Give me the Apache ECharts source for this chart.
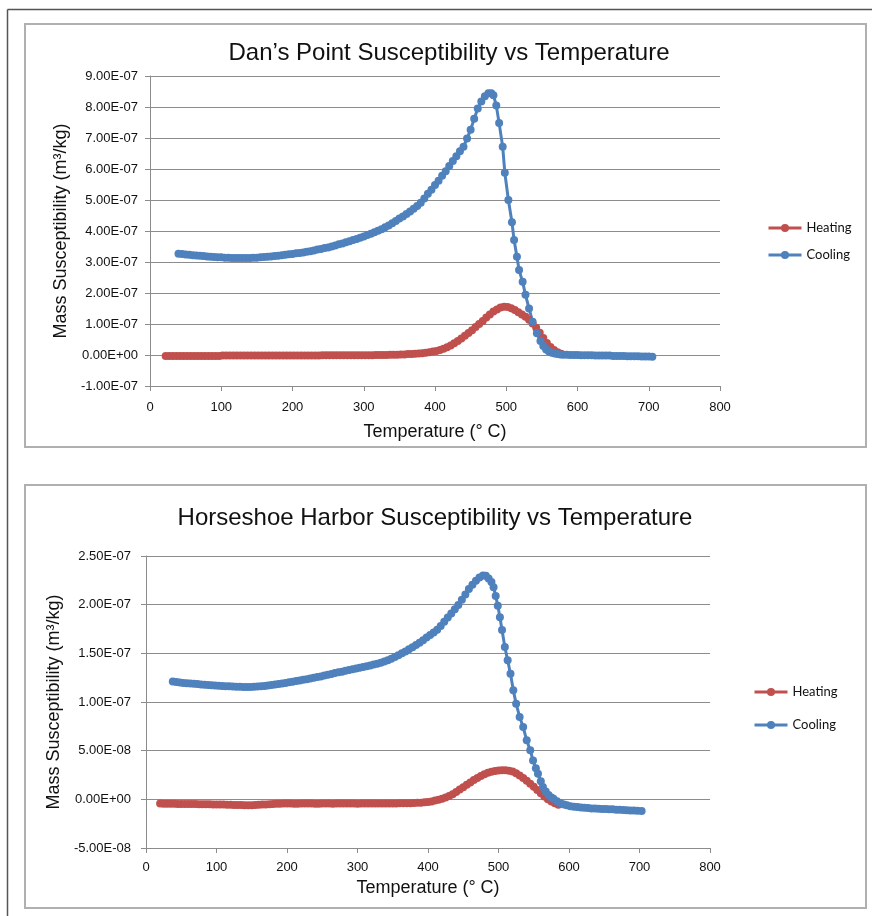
<!DOCTYPE html>
<html>
<head>
<meta charset="utf-8">
<script src="https://cdn.jsdelivr.net/npm/echarts@6/dist/echarts.min.js"></script>
<style>
html,body{margin:0;padding:0;background:#fff;}
#c{width:872px;height:916px;}
</style>
</head>
<body>
<div id="c"></div>
<script>
// ---- Tick labels ----
const xTicks = [0, 100, 200, 300, 400, 500, 600, 700, 800];
const dpYTicks = [-1, 0, 1, 2, 3, 4, 5, 6, 7, 8, 9];     // x 1E-07
const hhYTicks = [-5, 0, 5, 10, 15, 20, 25];             // x 1E-08
const seriesNames = ['Heating', 'Cooling'];

// ---- Dan's Point (temperature °C, susceptibility in units of 1E-07 m3/kg) ----
const dpHeating = [
[22,-0.03],[27,-0.03],[32,-0.03],[37,-0.03],[42,-0.03],[47,-0.03],[52,-0.03],[57,-0.03],[62,-0.03],[67,-0.03],
[72,-0.03],[77,-0.03],[82,-0.03],[87,-0.03],[92,-0.03],[97,-0.03],[102,-0.02],[107,-0.02],[112,-0.02],[117,-0.02],
[122,-0.02],[127,-0.02],[132,-0.02],[137,-0.02],[142,-0.02],[147,-0.02],[152,-0.02],[157,-0.02],[162,-0.02],[167,-0.02],
[172,-0.02],[177,-0.02],[182,-0.02],[187,-0.02],[192,-0.02],[197,-0.02],[202,-0.02],[207,-0.02],[212,-0.02],[217,-0.02],
[222,-0.02],[227,-0.02],[232,-0.02],[237,-0.02],[242,-0.01],[247,-0.01],[252,-0.01],[257,-0.01],[262,-0.01],[267,-0.01],
[272,-0.01],[277,-0.01],[282,-0.01],[287,-0.01],[292,-0.01],[297,-0.01],[302,-0.01],[307,-0.01],[312,-0.01],[317,0.00],
[322,0.00],[327,0.00],[332,0.00],[337,0.01],[342,0.01],[347,0.01],[352,0.02],[357,0.02],[362,0.03],[367,0.03],
[372,0.04],[377,0.05],[382,0.06],[387,0.07],[392,0.09],[397,0.11],[402,0.13],[407,0.16],[412,0.20],[417,0.25],
[422,0.31],[427,0.38],[432,0.45],[437,0.53],[442,0.62],[447,0.71],[452,0.80],[457,0.90],[462,1.00],[467,1.10],
[472,1.21],[477,1.31],[482,1.40],[487,1.47],[492,1.53],[497,1.56],[502,1.55],[507,1.51],[512,1.45],[517,1.38],
[522,1.31],[527,1.23],[532,1.14],[537,1.02],[542,0.88],[547,0.72],[552,0.55],[557,0.39],[562,0.26],[567,0.16],
[572,0.09],[577,0.04]
];
const dpCooling = [
[40,3.27],[45,3.26],[50,3.24],[55,3.23],[60,3.22],[65,3.21],[70,3.20],[75,3.19],[80,3.18],[85,3.17],
[90,3.16],[95,3.15],[100,3.15],[105,3.14],[110,3.14],[115,3.13],[120,3.13],[125,3.13],[130,3.13],[135,3.13],
[140,3.13],[145,3.14],[150,3.14],[155,3.15],[160,3.16],[165,3.17],[170,3.18],[175,3.19],[180,3.20],[185,3.22],
[190,3.23],[195,3.25],[200,3.26],[205,3.28],[210,3.29],[215,3.31],[220,3.33],[225,3.35],[230,3.37],[235,3.40],
[240,3.42],[245,3.45],[250,3.47],[255,3.50],[260,3.53],[265,3.57],[270,3.60],[275,3.64],[280,3.67],[285,3.71],
[290,3.74],[295,3.78],[300,3.82],[305,3.87],[310,3.91],[315,3.96],[320,4.01],[325,4.06],[330,4.12],[335,4.18],
[340,4.25],[345,4.32],[350,4.40],[355,4.47],[360,4.55],[365,4.63],[370,4.72],[375,4.81],[380,4.91],[385,5.05],
[390,5.20],[395,5.33],[400,5.48],[405,5.62],[410,5.78],[415,5.93],[420,6.10],[425,6.26],[430,6.41],[435,6.57],
[440,6.72],[445,6.98],[450,7.27],[455,7.62],[460,7.95],[465,8.18],[470,8.35],[475,8.44],[479,8.44],[482,8.38],
[486,8.05],[490,7.48],[495,6.72],[498,5.88],[503,5.00],[508,4.28],[511,3.71],[515,3.17],[518,2.74],[523,2.36],
[527,1.94],[532,1.50],[537,1.07],[543,0.70],[548,0.45],[552,0.29],[556,0.18],[560,0.11],[564,0.07],[568,0.05],
[572,0.03],[576,0.02],[580,0.01],[585,0.01],[590,0.00],[595,0.00],[600,0.00],[605,-0.01],[610,-0.01],[615,-0.01],
[620,-0.01],[625,-0.02],[630,-0.02],[635,-0.02],[640,-0.02],[645,-0.02],[650,-0.03],[655,-0.03],[660,-0.03],[665,-0.03],
[670,-0.04],[675,-0.04],[680,-0.04],[685,-0.04],[690,-0.05],[695,-0.05],[700,-0.05],[705,-0.06]
];

// ---- Horseshoe Harbor (temperature °C, susceptibility in units of 1E-08 m3/kg) ----
const hhHeating = [
[20,-0.44],[25,-0.45],[30,-0.45],[35,-0.46],[40,-0.46],[45,-0.47],[50,-0.47],[55,-0.48],[60,-0.48],[65,-0.49],
[70,-0.49],[75,-0.50],[80,-0.50],[85,-0.51],[90,-0.51],[95,-0.52],[100,-0.52],[105,-0.53],[110,-0.54],[115,-0.55],
[120,-0.56],[125,-0.57],[130,-0.58],[135,-0.59],[140,-0.60],[145,-0.60],[150,-0.60],[155,-0.58],[160,-0.56],[165,-0.54],
[170,-0.52],[175,-0.50],[180,-0.48],[185,-0.46],[190,-0.45],[195,-0.44],[200,-0.44],[205,-0.44],[210,-0.45],[215,-0.45],
[220,-0.44],[225,-0.44],[230,-0.43],[235,-0.44],[240,-0.45],[245,-0.45],[250,-0.44],[255,-0.44],[260,-0.44],[265,-0.45],
[270,-0.44],[275,-0.44],[280,-0.43],[285,-0.44],[290,-0.44],[295,-0.44],[300,-0.45],[305,-0.44],[310,-0.44],[315,-0.44],
[320,-0.44],[325,-0.43],[330,-0.43],[335,-0.43],[340,-0.43],[345,-0.42],[350,-0.42],[355,-0.42],[360,-0.41],[365,-0.41],
[370,-0.40],[375,-0.39],[380,-0.38],[385,-0.36],[390,-0.34],[395,-0.31],[400,-0.27],[405,-0.21],[410,-0.13],[415,-0.04],
[420,0.05],[425,0.18],[430,0.33],[435,0.52],[440,0.75],[445,1.00],[450,1.25],[455,1.50],[460,1.74],[465,1.98],
[470,2.20],[475,2.40],[480,2.57],[485,2.72],[490,2.83],[495,2.91],[500,2.96],[505,2.98],[510,2.98],[515,2.94],
[520,2.85],[525,2.68],[530,2.45],[535,2.20],[540,1.92],[545,1.61],[550,1.28],[555,0.95],[560,0.62],[565,0.30],
[570,0.02],[575,-0.22],[580,-0.40],[585,-0.55]
];
const hhCooling = [
[38,12.10],[43,12.05],[48,12.00],[53,11.96],[58,11.93],[63,11.90],[68,11.87],[73,11.84],[78,11.81],[83,11.78],
[88,11.75],[93,11.72],[98,11.70],[103,11.68],[108,11.65],[113,11.63],[118,11.61],[123,11.59],[128,11.57],[133,11.56],
[138,11.55],[143,11.54],[148,11.55],[153,11.56],[158,11.58],[163,11.61],[168,11.65],[173,11.69],[178,11.74],[183,11.79],
[188,11.84],[193,11.89],[198,11.94],[203,12.03],[208,12.09],[213,12.15],[218,12.21],[223,12.28],[228,12.35],[233,12.42],
[238,12.49],[243,12.56],[248,12.63],[253,12.71],[258,12.79],[263,12.88],[268,12.97],[273,13.05],[278,13.12],[283,13.20],
[288,13.28],[293,13.36],[298,13.44],[303,13.52],[308,13.60],[313,13.68],[318,13.76],[323,13.84],[328,13.93],[333,14.03],
[338,14.15],[343,14.29],[348,14.45],[353,14.62],[358,14.80],[363,15.00],[368,15.20],[373,15.42],[378,15.62],[383,15.85],
[388,16.10],[393,16.35],[398,16.62],[403,16.88],[408,17.15],[413,17.42],[418,17.82],[423,18.25],[428,18.68],[433,19.10],
[438,19.52],[443,19.96],[448,20.50],[453,21.05],[458,21.60],[463,22.05],[468,22.45],[473,22.78],[478,23.00],[482,22.98],
[486,22.70],[490,22.33],[493,21.80],[496,20.90],[499,19.90],[502,18.70],[505,17.40],[509,15.65],[513,14.28],[517,12.90],
[521,11.20],[525,9.83],[530,8.46],[535,7.43],[540,6.06],[545,5.03],[549,4.00],[553,3.20],[556,2.64],[560,1.85],
[563,1.26],[567,0.80],[571,0.45],[575,0.20],[578,0.07],[583,-0.20],[588,-0.40],[593,-0.52],[597,-0.62],[602,-0.70],
[607,-0.75],[612,-0.80],[617,-0.84],[622,-0.87],[627,-0.90],[632,-0.93],[637,-0.95],[642,-0.97],[647,-0.99],[652,-1.00],
[657,-1.02],[662,-1.03],[667,-1.06],[672,-1.08],[677,-1.10],[682,-1.12],[687,-1.14],[692,-1.16],[697,-1.18],[703,-1.20]
];

const RED = '#C0504D', BLUE = '#4F81BD';
const GRID_C = '#8c8c8c';
const TXT = '#111';

function sci(v) {
  const s = v.toExponential(2).toUpperCase();
  return s.replace(/E([+-])(\d+)$/, function (m, sg, d) { return 'E' + sg + (d.length < 2 ? '0' + d : d); });
}

function xAxisCfg(gridIndex, gap, margin) {
  return {
    type: 'value', gridIndex: gridIndex, min: xTicks[0], max: xTicks[xTicks.length - 1], interval: 100,
    name: 'Temperature (° C)', nameLocation: 'middle', nameGap: gap,
    nameTextStyle: { fontFamily: 'Liberation Sans', fontSize: 18, color: TXT },
    axisLine: { show: true, onZero: false, lineStyle: { color: GRID_C, width: 1 } },
    axisTick: { show: true, length: 5, lineStyle: { color: GRID_C } },
    axisLabel: { fontFamily: 'Liberation Sans', fontSize: 13, color: TXT, margin: margin },
    splitLine: { show: false }
  };
}
function yAxisCfg(gridIndex, ticks, unit, gap, margin) {
  return {
    type: 'value', gridIndex: gridIndex, min: ticks[0], max: ticks[ticks.length - 1], interval: ticks[1] - ticks[0],
    name: 'Mass Susceptibility (m³/kg)', nameLocation: 'middle', nameRotate: 90, nameGap: gap,
    nameTextStyle: { fontFamily: 'Liberation Sans', fontSize: 18, color: TXT },
    axisLine: { show: true, lineStyle: { color: GRID_C, width: 1 } },
    axisTick: { show: true, length: 5, lineStyle: { color: GRID_C } },
    axisLabel: { fontFamily: 'Liberation Sans', fontSize: 13, color: TXT, margin: margin,
      formatter: function (v) { return sci(v * unit); } },
    splitLine: { show: true, lineStyle: { color: GRID_C, width: 1 } }
  };
}
function lineSeries(name, data, color, idx) {
  return {
    name: name, type: 'line', xAxisIndex: idx, yAxisIndex: idx, data: data,
    symbol: 'circle', symbolSize: 8, showAllSymbol: true,
    itemStyle: { color: color }, lineStyle: { color: color, width: 3 },
    emphasis: { disabled: true }, animation: false
  };
}
function legendCfg(top, gap, left) {
  return {
    orient: 'vertical', left: left, top: top, itemWidth: 33, itemHeight: 10, itemGap: gap,
    data: seriesNames, selectedMode: false,
    lineStyle: { width: 3 },
    textStyle: { fontFamily: 'Lato', fontSize: 13, color: TXT, lineHeight: 14 }
  };
}

const chart = echarts.init(document.getElementById('c'), null, { renderer: 'canvas' });
chart.setOption({
  backgroundColor: '#fff',
  animation: false,
  graphic: [
    { type: 'line', shape: { x1: 7.5, y1: 9.5, x2: 872, y2: 9.5 }, style: { stroke: '#555', lineWidth: 1.5 }, silent: true },
    { type: 'line', shape: { x1: 7.5, y1: 9.5, x2: 7.5, y2: 916 }, style: { stroke: '#555', lineWidth: 1.5 }, silent: true },
    { type: 'rect', shape: { x: 25, y: 24, width: 841, height: 423 }, style: { fill: 'none', stroke: '#b0b0b0', lineWidth: 2 }, silent: true },
    { type: 'rect', shape: { x: 25, y: 485, width: 841, height: 423 }, style: { fill: 'none', stroke: '#b0b0b0', lineWidth: 2 }, silent: true }
  ],
  title: [
    { text: 'Dan’s Point Susceptibility vs Temperature', left: 444, top: 36, textAlign: 'center',
      textStyle: { fontFamily: 'Liberation Sans', fontSize: 24, fontWeight: 'normal', color: TXT } },
    { text: 'Horseshoe Harbor Susceptibility vs Temperature', left: 430, top: 501, textAlign: 'center',
      textStyle: { fontFamily: 'Liberation Sans', fontSize: 24, fontWeight: 'normal', color: TXT } }
  ],
  legend: [legendCfg(216, 13, 762), legendCfg(680, 19, 748)],
  grid: [
    { left: 150, top: 76, width: 570, height: 310 },
    { left: 146, top: 556, width: 564, height: 292 }
  ],
  xAxis: [xAxisCfg(0, 37, 15), xAxisCfg(1, 31, 13)],
  yAxis: [yAxisCfg(0, dpYTicks, 1e-7, 79, 12), yAxisCfg(1, hhYTicks, 1e-8, 81, 15)],
  series: [
    lineSeries('Heating', dpHeating, RED, 0),
    lineSeries('Cooling', dpCooling, BLUE, 0),
    lineSeries('Heating', hhHeating, RED, 1),
    lineSeries('Cooling', hhCooling, BLUE, 1)
  ]
});
</script>
</body>
</html>
